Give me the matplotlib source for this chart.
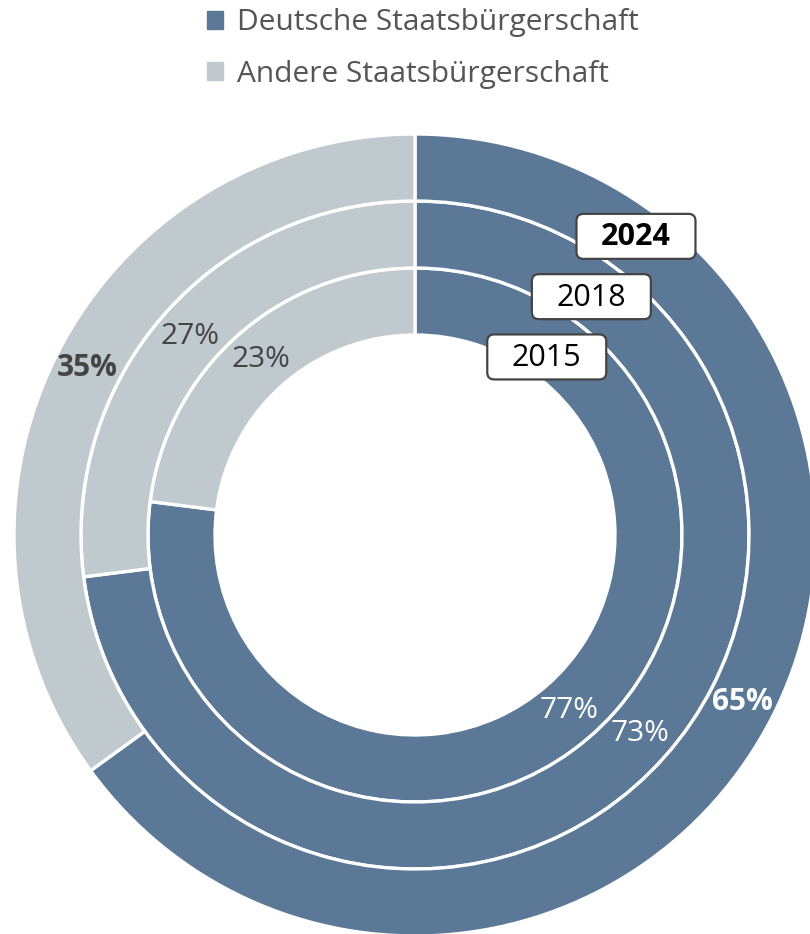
import matplotlib.pyplot as plt
from matplotlib.patches import Patch, FancyBboxPatch
import numpy as np

plt.rcParams['font.family'] = ['Open Sans', 'DejaVu Sans']

years = ['2015', '2018', '2024']
deutsch = [77, 73, 65]
andere = [23, 27, 35]
categories = ['Deutsche Staatsbürgerschaft', 'Andere Staatsbürgerschaft']

blue = '#5b7997'
grey = '#c0c9ce'

W, H = 810, 934
cx, cy = 415, 535          # centre in pixels (from top-left)
r_hole = 200
ring = 67
tag_w, tag_h = 119, 45

fig = plt.figure(figsize=(W / 100, H / 100), dpi=100)
ax = fig.add_axes([0, 0, 1, 1])

for i, yr in enumerate(years):
    r_out = r_hole + ring * (i + 1)
    outer = (i == len(years) - 1)
    ax.pie([deutsch[i], andere[i]], radius=r_out, colors=[blue, grey],
           startangle=90, counterclock=False,
           wedgeprops=dict(width=ring, edgecolor='white', linewidth=2.4))
    r_mid = r_out - ring / 2
    # percentage labels at the middle of each slice
    start = 0
    for val, col in zip([deutsch[i], andere[i]], ['white', '#444444']):
        ang = np.deg2rad(90 - (start + val / 2) * 3.6)
        ax.text(r_mid * np.cos(ang), r_mid * np.sin(ang), f'{val}%',
                ha='center', va='center', fontsize=21.5, color=col,
                fontweight='bold' if outer else 'normal')
        start += val
    # year tag
    ang = np.deg2rad(90 - 36.5)
    r_tag = r_mid - 8 * (2 - i) + 4
    tx, ty = r_tag * np.cos(ang), r_tag * np.sin(ang)
    ax.add_patch(FancyBboxPatch((tx - tag_w / 2, ty - tag_h / 2), tag_w, tag_h,
                                boxstyle='round,pad=0,rounding_size=7',
                                fc='white', ec='#444444', lw=1.6, zorder=5))
    ax.text(tx, ty - 1, yr, ha='center', va='center', fontsize=22, color='black',
            fontweight='bold' if outer else 'normal', zorder=6)

ax.set_xlim(-cx, W - cx)
ax.set_ylim(-(H - cy), cy)
ax.set_aspect('auto')
ax.axis('off')

handles = [Patch(color=blue), Patch(color=grey)]
fig.legend(handles, categories, loc='upper left', bbox_to_anchor=(180 / W, 1.02),
           frameon=False, fontsize=21.5, labelcolor='#555555',
           handlelength=0.55, handleheight=0.55, handletextpad=0.45, labelspacing=0.75)

fig.savefig('out.png', dpi=100)
